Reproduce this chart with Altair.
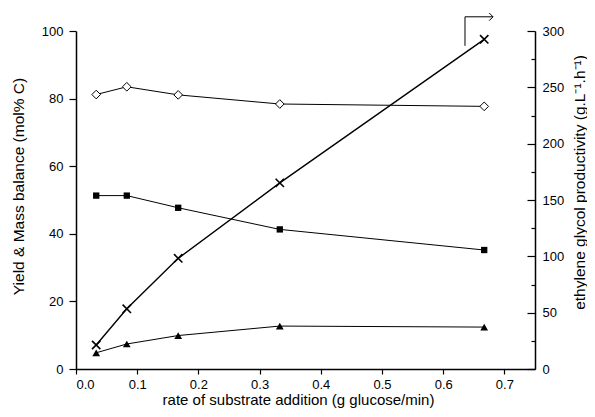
import altair as alt
import pandas as pd

rate = [0.033, 0.083, 0.167, 0.333, 0.667]
mass_balance = [81.2, 83.5, 81.1, 78.4, 77.7]
yield_sq = [51.3, 51.3, 47.7, 41.3, 35.2]
yield_tri = [4.8, 7.4, 9.9, 12.7, 12.4]
productivity = [21.3, 53.4, 98.2, 165.2, 292.6]

arrow_x = [0.6356, 0.6356, 0.6814]
arrow_y = [95.6, 104.2, 104.2]

FONT = "Liberation Sans"

left_rows = []
for name, vals in [("mb", mass_balance), ("sq", yield_sq), ("tri", yield_tri)]:
    for x, v in zip(rate, vals):
        left_rows.append({"series": name, "x": x, "y": v})
left_df = pd.DataFrame(left_rows)
right_df = pd.DataFrame({"x": rate, "p": productivity})

xscale = alt.Scale(domain=[0, 0.75], nice=False, zero=False)
yscale = alt.Scale(domain=[0, 100], nice=False)
y2scale = alt.Scale(domain=[0, 300], nice=False)

common = dict(
    grid=False, domainColor="black", tickColor="black", labelColor="black", titleColor="black",
    labelFont=FONT, titleFont=FONT, labelFontSize=13, titleFontWeight="normal",
    domainWidth=1.5, tickWidth=1.2,
)

x_axis = alt.Axis(
    title="rate of substrate addition (g glucose/min)",
    values=[round(i * 0.05, 2) for i in range(16)],
    labelExpr="abs(datum.value*10 - round(datum.value*10)) < 0.001 ? format(datum.value, '.1f') : ''",
    tickSize={"condition": {"test": "abs(datum.value*10 - round(datum.value*10)) < 0.001", "value": 5}, "value": 3},
    labelPadding=4, titleBaseline="alphabetic", titleX=222, titleY=35.5, titleFontSize=15, **common,
)
y_axis = alt.Axis(
    title="Yield & Mass balance (mol% C)",
    values=list(range(0, 101, 10)),
    labelExpr="datum.value % 20 === 0 ? datum.label : ''",
    tickSize={"condition": {"test": "datum.value % 20 === 0", "value": 7}, "value": 4},
    labelPadding=6, titlePadding=15, titleY=155, titleFontSize=15.5, **common,
)
y2_axis = alt.Axis(
    title="ethylene glycol productivity (g.L⁻¹.h⁻¹)",
    orient="right",
    values=list(range(0, 301, 25)),
    labelExpr="datum.value % 50 === 0 ? datum.label : ''",
    tickSize=alt.ExprRef("datum.value % 50 === 0 ? -8 : -4"),
    labelPadding=15, titlePadding=24, titleAngle=270, titleY=151, titleFontSize=15.5, **common,
)

base_l = alt.Chart(left_df).encode(
    x=alt.X("x:Q", scale=xscale, axis=x_axis),
    y=alt.Y("y:Q", scale=yscale, axis=y_axis),
    detail="series:N",
)
lines_l = base_l.mark_line(color="black", strokeWidth=1)

mb_pts = alt.Chart(left_df[left_df.series == "mb"]).mark_point(
    shape="diamond", filled=True, fill="white", stroke="black", strokeWidth=1, size=75, opacity=1
).encode(x=alt.X("x:Q", scale=xscale), y=alt.Y("y:Q", scale=yscale))
sq_pts = alt.Chart(left_df[left_df.series == "sq"]).mark_point(
    shape="square", filled=True, color="black", size=40, opacity=1
).encode(x=alt.X("x:Q", scale=xscale), y=alt.Y("y:Q", scale=yscale))
tri_pts = alt.Chart(left_df[left_df.series == "tri"]).mark_point(
    shape="triangle-up", filled=True, color="black", size=60, opacity=1
).encode(x=alt.X("x:Q", scale=xscale), y=alt.Y("y:Q", scale=yscale))

arrow_df = pd.DataFrame({"x": arrow_x, "y": arrow_y, "o": [0, 1, 2]})
arrow_line = alt.Chart(arrow_df).mark_line(color="black", strokeWidth=1, clip=False).encode(
    x=alt.X("x:Q", scale=xscale), y=alt.Y("y:Q", scale=yscale), order="o:Q"
)
arrow_head = alt.Chart(arrow_df.iloc[[2]]).mark_point(
    shape="M-1,-1L0,0L-1,1", stroke="black", strokeWidth=1, size=60, filled=False, opacity=1, clip=False
).encode(x=alt.X("x:Q", scale=xscale), y=alt.Y("y:Q", scale=yscale))

left_layer = alt.layer(lines_l, mb_pts, sq_pts, tri_pts, arrow_line, arrow_head)

base_r = alt.Chart(right_df).encode(
    x=alt.X("x:Q", scale=xscale),
    y=alt.Y("p:Q", scale=y2scale, axis=y2_axis),
)
right_layer = alt.layer(
    base_r.mark_line(color="black", strokeWidth=1.4),
    base_r.mark_point(shape="M-1,-1L1,1M-1,1L1,-1", stroke="black", strokeWidth=1.6, size=70, filled=False, opacity=1),
)

chart = alt.layer(left_layer, right_layer).resolve_scale(y="independent").properties(
    width=459, height=338,
    autosize=alt.AutoSizeParams(type="none"),
    padding={"left": 68, "top": 23, "right": 52, "bottom": 40},
    background="white",
).configure_view(stroke=None)

chart.save("out.html", embed_options={"renderer": "svg", "actions": False})
